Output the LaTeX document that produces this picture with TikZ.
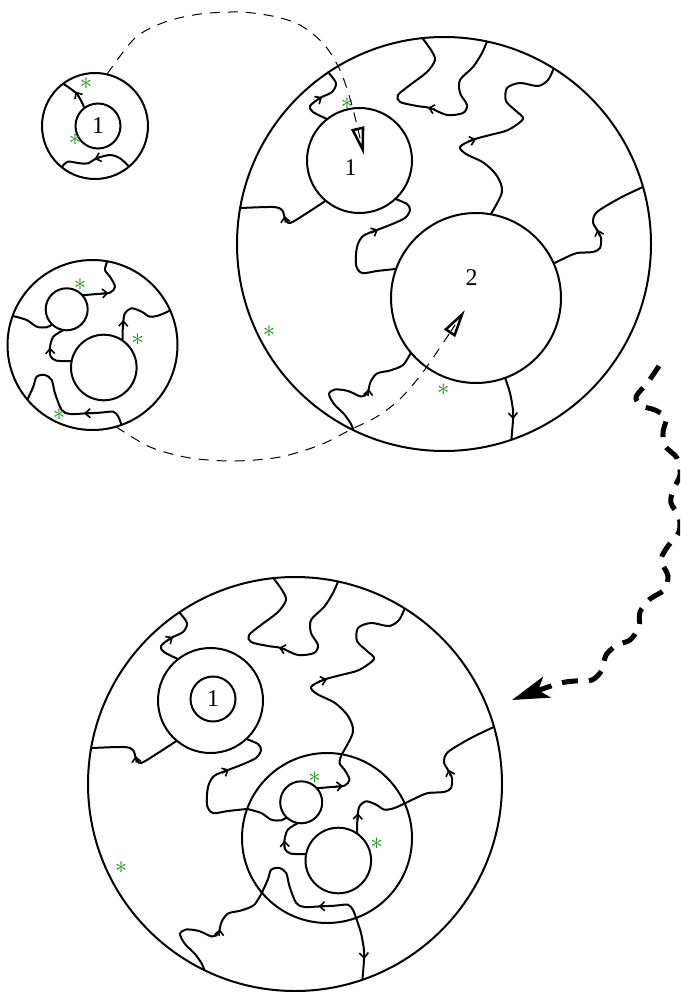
\documentclass[tikz,border=0pt]{standalone}
\usepackage{fontspec}
\setmainfont{Liberation Serif}
\usepackage{xcolor}
\usepackage{tikz}
\usetikzlibrary{arrows.meta}
\definecolor{stargreen}{RGB}{20,150,20}

% strands of the big disk: #1 outer, #2 hole 1, #3 hole 2
\newcommand{\bigstrands}[3]{%
  \draw[strand] plot[smooth] coordinates {(#2.128) (313,112) (310,106) (320,98) (332,92) (336,83) (#1.124)};
  \draw[flow] (315,101.5) -- (322,97);
  \draw[strand] plot[smooth] coordinates {(#1.96) (431,50) (435,60) (427,72) (410,85) (398,95) (400,102) (417,106) (430,108) (447,115) (463,113) (467,105) (460,93) (460,80) (473,67) (482,53) (#1.78)};
  \draw[flow] (435,109.5) -- (428,107.8);
  \draw[strand] plot[smooth] coordinates {(#1.58) (548,80) (538,86) (520,83) (507,88) (506,101) (516,111) (523,119) (508,130) (490,135) (472,140) (460,147) (466,154) (484,163) (497,176) (502,192) (#3.80)};
  \draw[flow] (468,141.5) -- (476,139.2);
  \draw[strand] plot[smooth] coordinates {(#1.16) (620,198) (597,212) (593,222) (597,230) (601,238) (600,248) (593,252) (577,253) (567,257) (#3.24)};
  \draw[flow] (599.5,236) -- (597.5,229.5);
  \draw[strand] plot[smooth] coordinates {(#3.290) (510,393) (513,410) (513,420) (#1.289)};
  \draw[flow] (512.8,411) -- (513.2,419);
  \draw[strand] plot[smooth] coordinates {(#3.220) (403,365) (390,370.5) (377,373.5) (370.5,382) (367.5,393) (361,396.5) (348,391) (335,389.5) (329,394) (334,404) (344,414) (351,424) (#1.244)};
  \draw[flow] (368,396) -- (368.8,389);
  \draw[strand] plot[smooth] coordinates {(#3.160) (377,271) (362,273) (356,265) (357,247) (363,236) (377,230) (390,225) (405,218) (410,210) (407,204) (#2.313)};
  \draw[flow] (371,233) -- (378,229.5);
  \draw[strand] plot[smooth] coordinates {(#2.230) (307,213) (290,223) (285,218) (282,210) (273,207) (#1.170)};
  \draw[flow] (285.5,222.5) -- (284.5,216);
}

% strands of the two-hole disk: #1 outer, #2 small hole, #3 large hole
\newcommand{\twostrands}[3]{%
  \draw[strand] plot[smooth] coordinates {(#2.42) (97,294) (110,292.7) (115,286.7) (110,276.7) (105,270) (#1.80)};
  \draw[flow] (101,293.6) -- (108.5,292.9);
  \draw[strand] plot[smooth] coordinates {(#2.226) (46.7,327.3) (36.7,326.7) (26.7,320) (#1.160)};
  \draw[strand] plot[smooth] coordinates {(#2.261) (53.3,336.7) (50,347) (50.5,356) (56,360.5) (#3.169)};
  \draw[flow] (50.2,354) -- (50,347.5);
  \draw[strand] plot[smooth] coordinates {(#3.55) (122.7,330) (123.3,321.7) (125,313.3) (131.7,308.3) (141.7,311.7) (150,316.7) (160,315) (#1.24)};
  \draw[flow] (123.2,327) -- (123.4,320);
  \draw[strand] plot[smooth] coordinates {(#1.220) (33.3,386.7) (36.7,376.7) (45,375) (51.7,380) (55,393.3) (61.7,410) (70,414) (86.7,413.3) (100,412.7) (113.3,411.7) (118.3,416.7) (#1.290)};
  \draw[flow] (91,413.2) -- (84,413.4);
}

\begin{document}
\begin{tikzpicture}[
    x=1pt, y=-1pt,
    disk/.style={draw, circle, line width=2pt, inner sep=0pt, outer sep=0pt},
    num/.style={font=\fontsize{24}{24}\selectfont},
    strand/.style={line width=2pt},
    flow/.style={-{Straight Barb[length=5pt,width=9pt]}, line width=1.6pt},
    asterisk/.style={text=stargreen, inner sep=0pt, font=\fontsize{30}{30}\selectfont},
    link/.style={dash pattern=on 10pt off 8pt, line width=1pt,
        -{Triangle[open,length=28pt,width=13pt,line width=2.5pt]}},
    bigmove/.style={dash pattern=on 16pt off 11pt, line width=5pt,
        -{Stealth[length=37pt,width=22pt,inset=9pt]}}
]
\clip (0,0) rectangle (680,992);

% one-hole disk
\node[disk, minimum size=106pt] (so) at (95,126) {};
\node[disk, num, minimum size=45pt] (si) at (98,126) {1};
\draw[strand] plot[smooth] coordinates {(si.127) (77,94) (so.127)};
\draw[flow] (79.5,98) -- (75.5,91.5);
\draw[strand] plot[smooth] coordinates {(so.231) (68,161.7) (80,163.3) (88,163.3) (96.7,158.3) (110,155) (120,158.3) (so.310)};
\draw[flow] (101,157) -- (94.5,159);
\node[asterisk] (s1) at (86,83.3) {$\ast$};
\node[asterisk] (s2) at (75,139.3) {$\ast$};

% two-hole disk
\node[disk, minimum size=170pt] (mo) at (92.5,345) {};
\node[disk, minimum size=42pt] (ms) at (66.7,309.3) {};
\node[disk, minimum size=65.6pt] (ml) at (103.8,367.5) {};
\twostrands{mo}{ms}{ml}
\node[asterisk] (s3) at (80,284.3) {$\ast$};
\node[asterisk] (s4) at (137.5,340) {$\ast$};
\node[asterisk] (s5) at (59,414.3) {$\ast$};

% big disk
\node[disk, minimum size=414pt] (to) at (444,244) {};
\node[disk, minimum size=105pt] (ta) at (359.5,160.5) {};
\node[disk, minimum size=170pt] (tb) at (476,298) {};
\node[num] (lab1) at (350.5,168) {1};
\node[num] (lab2) at (471.7,278) {2};
\bigstrands{to}{ta}{tb}
\node[asterisk] (s6) at (347,103.3) {$\ast$};
\node[asterisk] (s7) at (269,332) {$\ast$};
\node[asterisk] (s8) at (443.3,389.3) {$\ast$};

% insertion links
\draw[link] plot[smooth] coordinates {(so.77) (135,38) (165,22) (200,14) (240,12) (272,16) (296,23) (313,34) (327,48) (340,70) (348,92) (354,113) (364,155)};
\draw[link] plot[smooth] coordinates {(mo.286) (150,447) (190,458) (235,461) (280,457) (320,445) (350,430) (378,416) (400,399) (420,376) (437,352) (465,310)};

% composite disk
\begin{scope}[shift={(-149,540)}]
\node[disk, minimum size=414pt] (bo) at (444,244) {};
\node[disk, minimum size=105pt] (ba) at (359.5,160.5) {};
\node[disk, num, minimum size=45pt] (bi) at (362,159) {1};
\node[disk, minimum size=170pt] (bb) at (476,298) {};
\bigstrands{bo}{ba}{bb}
\end{scope}
\begin{scope}[shift={(234.5,493)}]
\node[disk, minimum size=42pt] (bs) at (66.7,309.3) {};
\node[disk, minimum size=65.6pt] (bl) at (103.8,367.5) {};
\twostrands{bb}{bs}{bl}
\end{scope}
\node[asterisk] (s9) at (121,868) {$\ast$};
\node[asterisk] (s10) at (314.5,777.3) {$\ast$};
\node[asterisk] (s11) at (376.7,843.3) {$\ast$};

% composition arrow
\draw[bigmove] plot[smooth] coordinates {(659,366) (648,382) (636,397) (642,406) (655,410) (666,418) (663,432) (665,446) (677,458) (680,475) (673,490) (671,503) (679,517) (679,532) (668,546) (661,560) (668,576) (664,590) (650,599) (640,612) (639,627) (630,640) (617,645) (606,655) (602,670) (592,680) (575,681) (557,684) (512,700)};

\end{tikzpicture}
\end{document}
